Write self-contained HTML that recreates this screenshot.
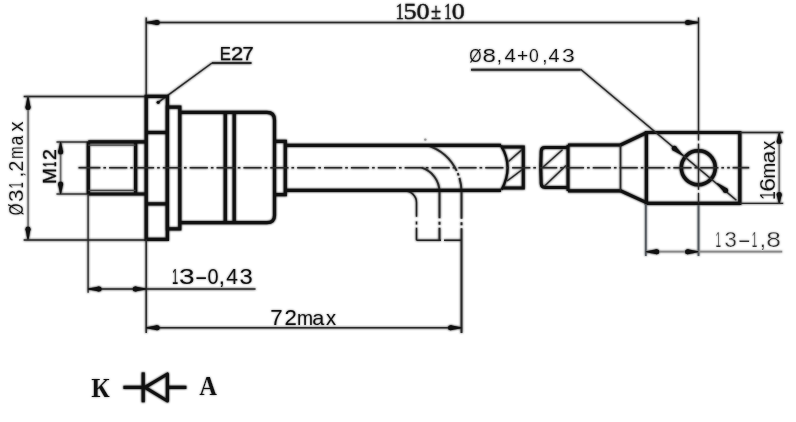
<!DOCTYPE html>
<html><head><meta charset="utf-8"><style>
html,body{margin:0;padding:0;background:#fff;width:796px;height:422px;overflow:hidden}
svg{display:block;will-change:transform}
</style></head><body>
<svg width="796" height="422" viewBox="0 0 796 422">
<rect width="796" height="422" fill="#fff"/>
<defs><filter id="bl" x="-1%" y="-1%" width="102%" height="102%"><feGaussianBlur stdDeviation="1"/></filter></defs>
<g filter="url(#bl)">
<line x1="146.2" y1="17.5" x2="146.2" y2="96" stroke="#2a2a2a" stroke-width="1.4" />
<line x1="698.5" y1="17.5" x2="698.5" y2="132.5" stroke="#2a2a2a" stroke-width="1.3" />
<line x1="698.5" y1="203.4" x2="698.5" y2="256" stroke="#555a60" stroke-width="1.8" />
<line x1="146.2" y1="22.5" x2="698.5" y2="22.5" stroke="#2a2a2a" stroke-width="1.5" />
<polygon points="146.20,22.00 157.20,20.00 157.20,25.00 146.20,23.00" fill="#111"/>
<circle cx="157.20" cy="22.50" r="2.50" fill="#111"/>
<polygon points="698.50,23.00 687.50,25.00 687.50,20.00 698.50,22.00" fill="#111"/>
<circle cx="687.50" cy="22.50" r="2.50" fill="#111"/>
<line x1="212" y1="63" x2="251.5" y2="63" stroke="#2a2a2a" stroke-width="2.0" />
<line x1="212" y1="63" x2="158.2" y2="102.3" stroke="#2a2a2a" stroke-width="1.5" />
<circle cx="158.2" cy="102.3" r="1.6" fill="#111"/>
<line x1="23.7" y1="96.4" x2="146.2" y2="96.4" stroke="#2a2a2a" stroke-width="1.5" />
<line x1="23.7" y1="240" x2="146.2" y2="240" stroke="#2a2a2a" stroke-width="1.5" />
<line x1="28.1" y1="96.4" x2="28.1" y2="240" stroke="#6a6a6a" stroke-width="1.5" />
<polygon points="28.50,96.40 30.50,107.40 25.50,107.40 27.50,96.40" fill="#111"/>
<circle cx="28.00" cy="107.40" r="2.50" fill="#111"/>
<polygon points="27.50,240.00 25.50,229.00 30.50,229.00 28.50,240.00" fill="#111"/>
<circle cx="28.00" cy="229.00" r="2.50" fill="#111"/>
<line x1="56.5" y1="142" x2="88" y2="142" stroke="#2a2a2a" stroke-width="1.3" />
<line x1="56.5" y1="194" x2="88" y2="194" stroke="#2a2a2a" stroke-width="1.3" />
<line x1="60.6" y1="142" x2="60.6" y2="194" stroke="#6a6a6a" stroke-width="1.5" />
<polygon points="61.10,142.00 63.10,152.00 58.10,152.00 60.10,142.00" fill="#111"/>
<circle cx="60.60" cy="152.00" r="2.50" fill="#111"/>
<polygon points="60.10,194.00 58.10,184.00 63.10,184.00 61.10,194.00" fill="#111"/>
<circle cx="60.60" cy="184.00" r="2.50" fill="#111"/>
<path d="M88.3,141.8 H146 M88.3,194 H146 M88.3,141.8 V194 M135.6,141.8 V194" stroke="#111" stroke-width="3.2" fill="none" />
<line x1="88.3" y1="145.2" x2="135.5" y2="145.2" stroke="#444" stroke-width="1.3" />
<line x1="88.3" y1="190.4" x2="135.6" y2="190.4" stroke="#444" stroke-width="1.3" />
<path d="M146.2,96.4 H167.4 V239.4 H146.2 Z" stroke="#111" stroke-width="3.3" fill="none" />
<line x1="146.2" y1="132.5" x2="167.4" y2="132.5" stroke="#111" stroke-width="3.2" />
<line x1="146.2" y1="203.9" x2="167.4" y2="203.9" stroke="#111" stroke-width="3.2" />
<path d="M167.4,228.8 V107.1 H179.8 V228.8 Z" stroke="#111" stroke-width="3.2" fill="none" />
<path d="M179.8,112.4 H267 Q274.5,112.4 274.5,120 V215.5 Q274.5,222.6 267,222.6 H179.8" stroke="#111" stroke-width="3.2" fill="none" />
<line x1="225.3" y1="112.4" x2="225.3" y2="222.6" stroke="#111" stroke-width="3.3" />
<line x1="234.2" y1="112.4" x2="234.2" y2="222.6" stroke="#111" stroke-width="3.3" />
<path d="M274.5,141.3 H285.3 V194.7 H274.5" stroke="#111" stroke-width="3.2" fill="none" />
<path d="M427.3,145.3 A49,49 0 0 1 461.5,192 V333" stroke="#2a2a2a" stroke-width="1.9" fill="none" stroke-dasharray="40 2.5 2.5 2.5 41 3.5 3 3 300"/>
<path d="M421.7,167.7 A25.5,25.5 0 0 1 439.5,192 V240.3" stroke="#2a2a2a" stroke-width="1.9" fill="none" stroke-dasharray="58.3 3.5 3 3 100"/>
<path d="M405,191 A11.5,11.5 0 0 1 416.5,202.5 V216.8" stroke="#222" stroke-width="1.5" fill="none" />
<line x1="416.5" y1="221.5" x2="416.5" y2="224.5" stroke="#222" stroke-width="1.5" />
<line x1="416.5" y1="227.7" x2="416.5" y2="240.3" stroke="#222" stroke-width="1.5" />
<path d="M416.5,240.3 H441 M444,240.3 H461.5" stroke="#222" stroke-width="1.5" fill="none" />
<path d="M285.2,145.3 H501 M285.2,190.3 H501" stroke="#111" stroke-width="3.2" fill="none" />
<path d="M501,145.6 Q514,167 501.5,189.8" stroke="#111" stroke-width="2.3" fill="none" />
<path d="M501,146.9 H523.3 V188 H502" stroke="#111" stroke-width="3.0" fill="none" />
<line x1="522" y1="149.6" x2="508.5" y2="161.5" stroke="#2a2a2a" stroke-width="1.4" />
<line x1="522" y1="169.8" x2="507" y2="181" stroke="#2a2a2a" stroke-width="1.4" />
<path d="M568,147.6 H545 Q541.2,147.6 541.2,151.5 Q540.2,167.5 541.2,183.6 Q541.2,187.5 545,187.5 H568" stroke="#111" stroke-width="3.0" fill="none" />
<line x1="568" y1="144.9" x2="568" y2="191" stroke="#111" stroke-width="3.0" />
<line x1="562.5" y1="149.7" x2="542.6" y2="167.5" stroke="#2a2a2a" stroke-width="1.4" />
<line x1="566" y1="165.5" x2="544.6" y2="186" stroke="#2a2a2a" stroke-width="1.4" />
<circle cx="425.3" cy="139.6" r="1.2" fill="#999"/>
<path d="M568,145 H620.5 M568,190.8 H620.5" stroke="#111" stroke-width="3.2" fill="none" />
<line x1="620.5" y1="145" x2="620.5" y2="190.8" stroke="#2a2a2a" stroke-width="1.6" />
<path d="M620.5,145 L646.4,132.8 M620.5,190.8 L646.4,202.6" stroke="#111" stroke-width="3.2" fill="none" />
<path d="M646.4,132.5 H739.8 V203.4 H646.4 Z" stroke="#111" stroke-width="3.2" fill="none" />
<circle cx="698.3" cy="167.8" r="17.0" stroke="#111" stroke-width="3.5" fill="none"/>
<line x1="78.5" y1="167.7" x2="100.4" y2="167.7" stroke="#2a2a2a" stroke-width="1.6" />
<line x1="100.4" y1="167.7" x2="727" y2="167.7" stroke="#2a2a2a" stroke-width="1.6" stroke-dasharray="18.2 3 2.6 3.07" stroke-dashoffset="18.2"/>
<line x1="727.2" y1="167.7" x2="729.8" y2="167.7" stroke="#2a2a2a" stroke-width="1.6" />
<line x1="732.6" y1="167.7" x2="749.2" y2="167.7" stroke="#2a2a2a" stroke-width="1.6" />
<line x1="698.5" y1="132.5" x2="698.5" y2="140.5" stroke="#2a2a2a" stroke-width="1.3" />
<line x1="698.5" y1="143.6" x2="698.5" y2="189.8" stroke="#2a2a2a" stroke-width="1.3" />
<line x1="698.5" y1="192.8" x2="698.5" y2="203.4" stroke="#2a2a2a" stroke-width="1.3" />
<line x1="471" y1="69.7" x2="580.6" y2="69.7" stroke="#2a2a2a" stroke-width="2.0" />
<line x1="580.6" y1="69.2" x2="736.4" y2="200.2" stroke="#2a2a2a" stroke-width="1.5" />
<polygon points="682.38,155.78 672.68,150.22 675.90,146.40 683.02,155.02" fill="#111"/>
<circle cx="674.29" cy="148.31" r="2.50" fill="#111"/>
<polygon points="717.52,182.92 727.22,188.48 724.00,192.30 716.88,183.68" fill="#111"/>
<circle cx="725.61" cy="190.39" r="2.50" fill="#111"/>
<line x1="740" y1="132.5" x2="783.2" y2="132.5" stroke="#2a2a2a" stroke-width="1.3" />
<line x1="740" y1="203.4" x2="783.2" y2="203.4" stroke="#2a2a2a" stroke-width="1.3" />
<line x1="779.2" y1="132.5" x2="779.2" y2="203.4" stroke="#6a6a6a" stroke-width="1.5" />
<polygon points="779.70,132.50 781.70,141.50 776.70,141.50 778.70,132.50" fill="#111"/>
<circle cx="779.20" cy="141.50" r="2.50" fill="#111"/>
<polygon points="778.70,203.40 776.70,194.40 781.70,194.40 779.70,203.40" fill="#111"/>
<circle cx="779.20" cy="194.40" r="2.50" fill="#111"/>
<line x1="645.8" y1="204" x2="645.8" y2="256" stroke="#555a60" stroke-width="1.8" />
<line x1="645.8" y1="251.7" x2="782.2" y2="251.7" stroke="#8a8a8a" stroke-width="1.7" />
<polygon points="645.80,251.20 656.80,249.20 656.80,254.20 645.80,252.20" fill="#111"/>
<circle cx="656.80" cy="251.70" r="2.50" fill="#111"/>
<polygon points="698.50,252.20 687.50,254.20 687.50,249.20 698.50,251.20" fill="#111"/>
<circle cx="687.50" cy="251.70" r="2.50" fill="#111"/>
<line x1="88.1" y1="194" x2="88.1" y2="292.8" stroke="#2a2a2a" stroke-width="1.3" />
<line x1="146.2" y1="239.6" x2="146.2" y2="333" stroke="#2a2a2a" stroke-width="1.5" />
<line x1="88.1" y1="289" x2="255.5" y2="289" stroke="#2a2a2a" stroke-width="1.5" />
<polygon points="88.10,288.50 99.10,286.50 99.10,291.50 88.10,289.50" fill="#111"/>
<circle cx="99.10" cy="289.00" r="2.50" fill="#111"/>
<polygon points="146.20,289.50 135.20,291.50 135.20,286.50 146.20,288.50" fill="#111"/>
<circle cx="135.20" cy="289.00" r="2.50" fill="#111"/>
<line x1="146.2" y1="327.7" x2="461.6" y2="327.7" stroke="#2a2a2a" stroke-width="1.5" />
<polygon points="146.20,327.20 157.20,325.20 157.20,330.20 146.20,328.20" fill="#111"/>
<circle cx="157.20" cy="327.70" r="2.50" fill="#111"/>
<polygon points="461.50,328.20 450.50,330.20 450.50,325.20 461.50,327.20" fill="#111"/>
<circle cx="450.50" cy="327.70" r="2.50" fill="#111"/>
<path d="M123.4,387.4 H143 M167,387.4 H186.4" stroke="#111" stroke-width="3.2" fill="none" />
<line x1="143.2" y1="372.4" x2="143.2" y2="402.3" stroke="#111" stroke-width="3.2" />
<path d="M145,387.4 L167.4,374 V401 Z" stroke="#111" stroke-width="3.2" fill="none" stroke-linejoin="round"/>
</g>
<g filter="url(#bl)" opacity="0.5">
<text x="395.51" y="19.1" font-family="Liberation Serif" font-size="23.46" fill="#1a1a1a" textLength="8.51" lengthAdjust="spacingAndGlyphs" stroke="#1a1a1a" stroke-width="0.35">1</text>
<text x="403.49" y="19.1" font-family="Liberation Serif" font-size="23.46" fill="#1a1a1a" textLength="13.17" lengthAdjust="spacingAndGlyphs" stroke="#1a1a1a" stroke-width="0.35">5</text>
<text x="416.62" y="19.1" font-family="Liberation Serif" font-size="23.46" fill="#1a1a1a" textLength="13.06" lengthAdjust="spacingAndGlyphs" stroke="#1a1a1a" stroke-width="0.35">0</text>
<text x="430.92" y="19.1" font-family="Liberation Serif" font-size="23.46" fill="#1a1a1a" textLength="10.03" lengthAdjust="spacingAndGlyphs" stroke="#1a1a1a" stroke-width="0.35">±</text>
<text x="443.93" y="19.1" font-family="Liberation Serif" font-size="23.46" fill="#1a1a1a" textLength="7.8" lengthAdjust="spacingAndGlyphs" stroke="#1a1a1a" stroke-width="0.35">1</text>
<text x="451.82" y="19.1" font-family="Liberation Serif" font-size="23.46" fill="#1a1a1a" textLength="13.06" lengthAdjust="spacingAndGlyphs" stroke="#1a1a1a" stroke-width="0.35">0</text>
<text x="219.72" y="59.6" font-family="Liberation Sans" font-size="17.6" fill="#111" textLength="11.19" lengthAdjust="spacingAndGlyphs" stroke="#111" stroke-width="0.25">E</text>
<text x="231.1" y="59.6" font-family="Liberation Sans" font-size="17.6" fill="#111" textLength="12.22" lengthAdjust="spacingAndGlyphs" stroke="#111" stroke-width="0.25">2</text>
<text x="242.64" y="59.6" font-family="Liberation Sans" font-size="17.6" fill="#111" textLength="11.18" lengthAdjust="spacingAndGlyphs" stroke="#111" stroke-width="0.25">7</text>
<text x="23.2" y="215.16" transform="rotate(-90 23.2 215.16)" font-family="Liberation Sans" font-size="19.35" fill="#111" textLength="11.7" lengthAdjust="spacingAndGlyphs" stroke="#fff" stroke-width="0.1">Ø</text>
<text x="23.2" y="202.04" transform="rotate(-90 23.2 202.04)" font-family="Liberation Sans" font-size="19.35" fill="#111" textLength="12.53" lengthAdjust="spacingAndGlyphs" stroke="#fff" stroke-width="0.1">3</text>
<text x="23.2" y="188.57" transform="rotate(-90 23.2 188.57)" font-family="Liberation Sans" font-size="19.35" fill="#111" textLength="6.43" lengthAdjust="spacingAndGlyphs" stroke="#fff" stroke-width="0.1">1</text>
<text x="23.2" y="177.19" transform="rotate(-90 23.2 177.19)" font-family="Liberation Sans" font-size="19.35" fill="#111" textLength="5.38" lengthAdjust="spacingAndGlyphs" stroke="#fff" stroke-width="0.1">,</text>
<text x="23.2" y="171.57" transform="rotate(-90 23.2 171.57)" font-family="Liberation Sans" font-size="19.35" fill="#111" textLength="10.76" lengthAdjust="spacingAndGlyphs" stroke="#fff" stroke-width="0.1">2</text>
<text x="23.2" y="158.62" transform="rotate(-90 23.2 158.62)" font-family="Liberation Sans" font-size="20.09" fill="#111" textLength="12.61" lengthAdjust="spacingAndGlyphs" stroke="#fff" stroke-width="0.1">m</text>
<text x="23.2" y="145.33" transform="rotate(-90 23.2 145.33)" font-family="Liberation Sans" font-size="20.09" fill="#111" textLength="9.55" lengthAdjust="spacingAndGlyphs" stroke="#fff" stroke-width="0.1">a</text>
<text x="23.2" y="131.86" transform="rotate(-90 23.2 131.86)" font-family="Liberation Sans" font-size="20.09" fill="#111" textLength="10.53" lengthAdjust="spacingAndGlyphs" stroke="#fff" stroke-width="0.1">x</text>
<text x="56.5" y="183.83" transform="rotate(-90 56.5 183.83)" font-family="Liberation Sans" font-size="18.18" fill="#111" textLength="15.47" lengthAdjust="spacingAndGlyphs" stroke="#111" stroke-width="0.3">M</text>
<text x="56.5" y="167.09" transform="rotate(-90 56.5 167.09)" font-family="Liberation Sans" font-size="18.18" fill="#111" textLength="5.14" lengthAdjust="spacingAndGlyphs" stroke="#111" stroke-width="0.3">1</text>
<text x="56.5" y="159.88" transform="rotate(-90 56.5 159.88)" font-family="Liberation Sans" font-size="18.18" fill="#111" textLength="10.88" lengthAdjust="spacingAndGlyphs" stroke="#111" stroke-width="0.3">2</text>
<text x="469.3" y="61.5" font-family="Liberation Sans" font-size="18.64" fill="#111" textLength="12.36" lengthAdjust="spacingAndGlyphs" stroke="#fff" stroke-width="0.1">Ø</text>
<text x="482.58" y="61.5" font-family="Liberation Sans" font-size="18.64" fill="#111" textLength="13.37" lengthAdjust="spacingAndGlyphs" stroke="#fff" stroke-width="0.1">8</text>
<text x="496.66" y="61.5" font-family="Liberation Sans" font-size="18.64" fill="#111" textLength="5.18" lengthAdjust="spacingAndGlyphs" stroke="#fff" stroke-width="0.1">,</text>
<text x="504.54" y="61.5" font-family="Liberation Sans" font-size="18.64" fill="#111" textLength="11.34" lengthAdjust="spacingAndGlyphs" stroke="#fff" stroke-width="0.1">4</text>
<text x="517.04" y="61.5" font-family="Liberation Sans" font-size="18.64" fill="#111" textLength="11.2" lengthAdjust="spacingAndGlyphs" stroke="#fff" stroke-width="0.1">+</text>
<text x="529.0" y="61.5" font-family="Liberation Sans" font-size="18.64" fill="#111" textLength="9.78" lengthAdjust="spacingAndGlyphs" stroke="#fff" stroke-width="0.1">0</text>
<text x="542.16" y="61.5" font-family="Liberation Sans" font-size="18.64" fill="#111" textLength="5.18" lengthAdjust="spacingAndGlyphs" stroke="#fff" stroke-width="0.1">,</text>
<text x="548.55" y="61.5" font-family="Liberation Sans" font-size="18.64" fill="#111" textLength="11.01" lengthAdjust="spacingAndGlyphs" stroke="#fff" stroke-width="0.1">4</text>
<text x="562.14" y="61.5" font-family="Liberation Sans" font-size="18.64" fill="#111" textLength="12.76" lengthAdjust="spacingAndGlyphs" stroke="#fff" stroke-width="0.1">3</text>
<text x="774.9" y="199.86" transform="rotate(-90 774.9 199.86)" font-family="Liberation Sans" font-size="22.25" fill="#111" textLength="8.62" lengthAdjust="spacingAndGlyphs" stroke="#fff" stroke-width="0.1">1</text>
<text x="774.9" y="191.75" transform="rotate(-90 774.9 191.75)" font-family="Liberation Sans" font-size="22.25" fill="#111" textLength="13.95" lengthAdjust="spacingAndGlyphs" stroke="#fff" stroke-width="0.1">6</text>
<text x="774.9" y="178.47" transform="rotate(-90 774.9 178.47)" font-family="Liberation Sans" font-size="20.66" fill="#111" textLength="15.71" lengthAdjust="spacingAndGlyphs" stroke="#fff" stroke-width="0.1">m</text>
<text x="774.9" y="163.26" transform="rotate(-90 774.9 163.26)" font-family="Liberation Sans" font-size="20.66" fill="#111" textLength="12.59" lengthAdjust="spacingAndGlyphs" stroke="#fff" stroke-width="0.1">a</text>
<text x="774.9" y="150.14" transform="rotate(-90 774.9 150.14)" font-family="Liberation Sans" font-size="20.66" fill="#111" textLength="9.58" lengthAdjust="spacingAndGlyphs" stroke="#fff" stroke-width="0.1">x</text>
<text x="715.45" y="246.5" font-family="Liberation Sans" font-size="22.51" fill="#333" textLength="5.53" lengthAdjust="spacingAndGlyphs" stroke="#fff" stroke-width="0.25">1</text>
<text x="724.47" y="246.5" font-family="Liberation Sans" font-size="22.51" fill="#333" textLength="12.29" lengthAdjust="spacingAndGlyphs" stroke="#fff" stroke-width="0.25">3</text>
<text x="737.23" y="246.5" font-family="Liberation Sans" font-size="22.51" fill="#333" textLength="13.87" lengthAdjust="spacingAndGlyphs" stroke="#fff" stroke-width="0.25">-</text>
<text x="751.75" y="246.5" font-family="Liberation Sans" font-size="22.51" fill="#333" textLength="5.53" lengthAdjust="spacingAndGlyphs" stroke="#fff" stroke-width="0.25">1</text>
<text x="759.63" y="246.5" font-family="Liberation Sans" font-size="22.51" fill="#333" textLength="6.25" lengthAdjust="spacingAndGlyphs" stroke="#fff" stroke-width="0.25">,</text>
<text x="766.18" y="246.5" font-family="Liberation Sans" font-size="22.51" fill="#333" textLength="14.67" lengthAdjust="spacingAndGlyphs" stroke="#fff" stroke-width="0.25">8</text>
<text x="171.97" y="283.6" font-family="Liberation Sans" font-size="22.08" fill="#111" textLength="6.17" lengthAdjust="spacingAndGlyphs" >1</text>
<text x="178.95" y="283.6" font-family="Liberation Sans" font-size="22.08" fill="#111" textLength="15.57" lengthAdjust="spacingAndGlyphs" >3</text>
<text x="194.66" y="283.6" font-family="Liberation Sans" font-size="22.08" fill="#111" textLength="12.91" lengthAdjust="spacingAndGlyphs" >-</text>
<text x="207.5" y="283.6" font-family="Liberation Sans" font-size="22.08" fill="#111" textLength="11.07" lengthAdjust="spacingAndGlyphs" >0</text>
<text x="218.74" y="283.6" font-family="Liberation Sans" font-size="22.08" fill="#111" textLength="6.13" lengthAdjust="spacingAndGlyphs" >,</text>
<text x="226.13" y="283.6" font-family="Liberation Sans" font-size="22.08" fill="#111" textLength="11.67" lengthAdjust="spacingAndGlyphs" >4</text>
<text x="239.51" y="283.6" font-family="Liberation Sans" font-size="22.08" fill="#111" textLength="13.23" lengthAdjust="spacingAndGlyphs" >3</text>
<text x="270.33" y="324.6" font-family="Liberation Sans" font-size="21.96" fill="#111" textLength="12.41" lengthAdjust="spacingAndGlyphs" >7</text>
<text x="284.49" y="324.6" font-family="Liberation Sans" font-size="21.96" fill="#111" textLength="12.35" lengthAdjust="spacingAndGlyphs" >2</text>
<text x="296.9" y="324.6" font-family="Liberation Sans" font-size="20.09" fill="#111" textLength="16.07" lengthAdjust="spacingAndGlyphs" >m</text>
<text x="312.28" y="324.6" font-family="Liberation Sans" font-size="20.09" fill="#111" textLength="12.05" lengthAdjust="spacingAndGlyphs" >a</text>
<text x="326.05" y="324.6" font-family="Liberation Sans" font-size="20.09" fill="#111" textLength="10.11" lengthAdjust="spacingAndGlyphs" >x</text>
<text x="91.2" y="397.4" font-family="Liberation Serif" font-size="26.5" font-weight="bold" fill="#111" textLength="18.5" lengthAdjust="spacingAndGlyphs" stroke="#fff" stroke-width="0.1">К</text>
<text x="199.3" y="395.4" font-family="Liberation Serif" font-size="26.5" font-weight="bold" fill="#111" textLength="17.8" lengthAdjust="spacingAndGlyphs" stroke="#fff" stroke-width="0.1">A</text>
</g>
<g>
<line x1="146.2" y1="17.5" x2="146.2" y2="96" stroke="#2a2a2a" stroke-width="1.4" />
<line x1="698.5" y1="17.5" x2="698.5" y2="132.5" stroke="#2a2a2a" stroke-width="1.3" />
<line x1="698.5" y1="203.4" x2="698.5" y2="256" stroke="#555a60" stroke-width="1.8" />
<line x1="146.2" y1="22.5" x2="698.5" y2="22.5" stroke="#2a2a2a" stroke-width="1.5" />
<polygon points="146.20,22.00 157.20,20.00 157.20,25.00 146.20,23.00" fill="#111"/>
<circle cx="157.20" cy="22.50" r="2.50" fill="#111"/>
<polygon points="698.50,23.00 687.50,25.00 687.50,20.00 698.50,22.00" fill="#111"/>
<circle cx="687.50" cy="22.50" r="2.50" fill="#111"/>
<line x1="212" y1="63" x2="251.5" y2="63" stroke="#2a2a2a" stroke-width="2.0" />
<line x1="212" y1="63" x2="158.2" y2="102.3" stroke="#2a2a2a" stroke-width="1.5" />
<circle cx="158.2" cy="102.3" r="1.6" fill="#111"/>
<line x1="23.7" y1="96.4" x2="146.2" y2="96.4" stroke="#2a2a2a" stroke-width="1.5" />
<line x1="23.7" y1="240" x2="146.2" y2="240" stroke="#2a2a2a" stroke-width="1.5" />
<line x1="28.1" y1="96.4" x2="28.1" y2="240" stroke="#6a6a6a" stroke-width="1.5" />
<polygon points="28.50,96.40 30.50,107.40 25.50,107.40 27.50,96.40" fill="#111"/>
<circle cx="28.00" cy="107.40" r="2.50" fill="#111"/>
<polygon points="27.50,240.00 25.50,229.00 30.50,229.00 28.50,240.00" fill="#111"/>
<circle cx="28.00" cy="229.00" r="2.50" fill="#111"/>
<line x1="56.5" y1="142" x2="88" y2="142" stroke="#2a2a2a" stroke-width="1.3" />
<line x1="56.5" y1="194" x2="88" y2="194" stroke="#2a2a2a" stroke-width="1.3" />
<line x1="60.6" y1="142" x2="60.6" y2="194" stroke="#6a6a6a" stroke-width="1.5" />
<polygon points="61.10,142.00 63.10,152.00 58.10,152.00 60.10,142.00" fill="#111"/>
<circle cx="60.60" cy="152.00" r="2.50" fill="#111"/>
<polygon points="60.10,194.00 58.10,184.00 63.10,184.00 61.10,194.00" fill="#111"/>
<circle cx="60.60" cy="184.00" r="2.50" fill="#111"/>
<path d="M88.3,141.8 H146 M88.3,194 H146 M88.3,141.8 V194 M135.6,141.8 V194" stroke="#111" stroke-width="3.2" fill="none" />
<line x1="88.3" y1="145.2" x2="135.5" y2="145.2" stroke="#444" stroke-width="1.3" />
<line x1="88.3" y1="190.4" x2="135.6" y2="190.4" stroke="#444" stroke-width="1.3" />
<path d="M146.2,96.4 H167.4 V239.4 H146.2 Z" stroke="#111" stroke-width="3.3" fill="none" />
<line x1="146.2" y1="132.5" x2="167.4" y2="132.5" stroke="#111" stroke-width="3.2" />
<line x1="146.2" y1="203.9" x2="167.4" y2="203.9" stroke="#111" stroke-width="3.2" />
<path d="M167.4,228.8 V107.1 H179.8 V228.8 Z" stroke="#111" stroke-width="3.2" fill="none" />
<path d="M179.8,112.4 H267 Q274.5,112.4 274.5,120 V215.5 Q274.5,222.6 267,222.6 H179.8" stroke="#111" stroke-width="3.2" fill="none" />
<line x1="225.3" y1="112.4" x2="225.3" y2="222.6" stroke="#111" stroke-width="3.3" />
<line x1="234.2" y1="112.4" x2="234.2" y2="222.6" stroke="#111" stroke-width="3.3" />
<path d="M274.5,141.3 H285.3 V194.7 H274.5" stroke="#111" stroke-width="3.2" fill="none" />
<path d="M427.3,145.3 A49,49 0 0 1 461.5,192 V333" stroke="#2a2a2a" stroke-width="1.9" fill="none" stroke-dasharray="40 2.5 2.5 2.5 41 3.5 3 3 300"/>
<path d="M421.7,167.7 A25.5,25.5 0 0 1 439.5,192 V240.3" stroke="#2a2a2a" stroke-width="1.9" fill="none" stroke-dasharray="58.3 3.5 3 3 100"/>
<path d="M405,191 A11.5,11.5 0 0 1 416.5,202.5 V216.8" stroke="#222" stroke-width="1.5" fill="none" />
<line x1="416.5" y1="221.5" x2="416.5" y2="224.5" stroke="#222" stroke-width="1.5" />
<line x1="416.5" y1="227.7" x2="416.5" y2="240.3" stroke="#222" stroke-width="1.5" />
<path d="M416.5,240.3 H441 M444,240.3 H461.5" stroke="#222" stroke-width="1.5" fill="none" />
<path d="M285.2,145.3 H501 M285.2,190.3 H501" stroke="#111" stroke-width="3.2" fill="none" />
<path d="M501,145.6 Q514,167 501.5,189.8" stroke="#111" stroke-width="2.3" fill="none" />
<path d="M501,146.9 H523.3 V188 H502" stroke="#111" stroke-width="3.0" fill="none" />
<line x1="522" y1="149.6" x2="508.5" y2="161.5" stroke="#2a2a2a" stroke-width="1.4" />
<line x1="522" y1="169.8" x2="507" y2="181" stroke="#2a2a2a" stroke-width="1.4" />
<path d="M568,147.6 H545 Q541.2,147.6 541.2,151.5 Q540.2,167.5 541.2,183.6 Q541.2,187.5 545,187.5 H568" stroke="#111" stroke-width="3.0" fill="none" />
<line x1="568" y1="144.9" x2="568" y2="191" stroke="#111" stroke-width="3.0" />
<line x1="562.5" y1="149.7" x2="542.6" y2="167.5" stroke="#2a2a2a" stroke-width="1.4" />
<line x1="566" y1="165.5" x2="544.6" y2="186" stroke="#2a2a2a" stroke-width="1.4" />
<circle cx="425.3" cy="139.6" r="1.2" fill="#999"/>
<path d="M568,145 H620.5 M568,190.8 H620.5" stroke="#111" stroke-width="3.2" fill="none" />
<line x1="620.5" y1="145" x2="620.5" y2="190.8" stroke="#2a2a2a" stroke-width="1.6" />
<path d="M620.5,145 L646.4,132.8 M620.5,190.8 L646.4,202.6" stroke="#111" stroke-width="3.2" fill="none" />
<path d="M646.4,132.5 H739.8 V203.4 H646.4 Z" stroke="#111" stroke-width="3.2" fill="none" />
<circle cx="698.3" cy="167.8" r="17.0" stroke="#111" stroke-width="3.5" fill="none"/>
<line x1="78.5" y1="167.7" x2="100.4" y2="167.7" stroke="#2a2a2a" stroke-width="1.6" />
<line x1="100.4" y1="167.7" x2="727" y2="167.7" stroke="#2a2a2a" stroke-width="1.6" stroke-dasharray="18.2 3 2.6 3.07" stroke-dashoffset="18.2"/>
<line x1="727.2" y1="167.7" x2="729.8" y2="167.7" stroke="#2a2a2a" stroke-width="1.6" />
<line x1="732.6" y1="167.7" x2="749.2" y2="167.7" stroke="#2a2a2a" stroke-width="1.6" />
<line x1="698.5" y1="132.5" x2="698.5" y2="140.5" stroke="#2a2a2a" stroke-width="1.3" />
<line x1="698.5" y1="143.6" x2="698.5" y2="189.8" stroke="#2a2a2a" stroke-width="1.3" />
<line x1="698.5" y1="192.8" x2="698.5" y2="203.4" stroke="#2a2a2a" stroke-width="1.3" />
<line x1="471" y1="69.7" x2="580.6" y2="69.7" stroke="#2a2a2a" stroke-width="2.0" />
<line x1="580.6" y1="69.2" x2="736.4" y2="200.2" stroke="#2a2a2a" stroke-width="1.5" />
<polygon points="682.38,155.78 672.68,150.22 675.90,146.40 683.02,155.02" fill="#111"/>
<circle cx="674.29" cy="148.31" r="2.50" fill="#111"/>
<polygon points="717.52,182.92 727.22,188.48 724.00,192.30 716.88,183.68" fill="#111"/>
<circle cx="725.61" cy="190.39" r="2.50" fill="#111"/>
<line x1="740" y1="132.5" x2="783.2" y2="132.5" stroke="#2a2a2a" stroke-width="1.3" />
<line x1="740" y1="203.4" x2="783.2" y2="203.4" stroke="#2a2a2a" stroke-width="1.3" />
<line x1="779.2" y1="132.5" x2="779.2" y2="203.4" stroke="#6a6a6a" stroke-width="1.5" />
<polygon points="779.70,132.50 781.70,141.50 776.70,141.50 778.70,132.50" fill="#111"/>
<circle cx="779.20" cy="141.50" r="2.50" fill="#111"/>
<polygon points="778.70,203.40 776.70,194.40 781.70,194.40 779.70,203.40" fill="#111"/>
<circle cx="779.20" cy="194.40" r="2.50" fill="#111"/>
<line x1="645.8" y1="204" x2="645.8" y2="256" stroke="#555a60" stroke-width="1.8" />
<line x1="645.8" y1="251.7" x2="782.2" y2="251.7" stroke="#8a8a8a" stroke-width="1.7" />
<polygon points="645.80,251.20 656.80,249.20 656.80,254.20 645.80,252.20" fill="#111"/>
<circle cx="656.80" cy="251.70" r="2.50" fill="#111"/>
<polygon points="698.50,252.20 687.50,254.20 687.50,249.20 698.50,251.20" fill="#111"/>
<circle cx="687.50" cy="251.70" r="2.50" fill="#111"/>
<line x1="88.1" y1="194" x2="88.1" y2="292.8" stroke="#2a2a2a" stroke-width="1.3" />
<line x1="146.2" y1="239.6" x2="146.2" y2="333" stroke="#2a2a2a" stroke-width="1.5" />
<line x1="88.1" y1="289" x2="255.5" y2="289" stroke="#2a2a2a" stroke-width="1.5" />
<polygon points="88.10,288.50 99.10,286.50 99.10,291.50 88.10,289.50" fill="#111"/>
<circle cx="99.10" cy="289.00" r="2.50" fill="#111"/>
<polygon points="146.20,289.50 135.20,291.50 135.20,286.50 146.20,288.50" fill="#111"/>
<circle cx="135.20" cy="289.00" r="2.50" fill="#111"/>
<line x1="146.2" y1="327.7" x2="461.6" y2="327.7" stroke="#2a2a2a" stroke-width="1.5" />
<polygon points="146.20,327.20 157.20,325.20 157.20,330.20 146.20,328.20" fill="#111"/>
<circle cx="157.20" cy="327.70" r="2.50" fill="#111"/>
<polygon points="461.50,328.20 450.50,330.20 450.50,325.20 461.50,327.20" fill="#111"/>
<circle cx="450.50" cy="327.70" r="2.50" fill="#111"/>
<path d="M123.4,387.4 H143 M167,387.4 H186.4" stroke="#111" stroke-width="3.2" fill="none" />
<line x1="143.2" y1="372.4" x2="143.2" y2="402.3" stroke="#111" stroke-width="3.2" />
<path d="M145,387.4 L167.4,374 V401 Z" stroke="#111" stroke-width="3.2" fill="none" stroke-linejoin="round"/>
</g>
<g>
<text x="395.51" y="19.1" font-family="Liberation Serif" font-size="23.46" fill="#1a1a1a" textLength="8.51" lengthAdjust="spacingAndGlyphs" stroke="#1a1a1a" stroke-width="0.35">1</text>
<text x="403.49" y="19.1" font-family="Liberation Serif" font-size="23.46" fill="#1a1a1a" textLength="13.17" lengthAdjust="spacingAndGlyphs" stroke="#1a1a1a" stroke-width="0.35">5</text>
<text x="416.62" y="19.1" font-family="Liberation Serif" font-size="23.46" fill="#1a1a1a" textLength="13.06" lengthAdjust="spacingAndGlyphs" stroke="#1a1a1a" stroke-width="0.35">0</text>
<text x="430.92" y="19.1" font-family="Liberation Serif" font-size="23.46" fill="#1a1a1a" textLength="10.03" lengthAdjust="spacingAndGlyphs" stroke="#1a1a1a" stroke-width="0.35">±</text>
<text x="443.93" y="19.1" font-family="Liberation Serif" font-size="23.46" fill="#1a1a1a" textLength="7.8" lengthAdjust="spacingAndGlyphs" stroke="#1a1a1a" stroke-width="0.35">1</text>
<text x="451.82" y="19.1" font-family="Liberation Serif" font-size="23.46" fill="#1a1a1a" textLength="13.06" lengthAdjust="spacingAndGlyphs" stroke="#1a1a1a" stroke-width="0.35">0</text>
<text x="219.72" y="59.6" font-family="Liberation Sans" font-size="17.6" fill="#111" textLength="11.19" lengthAdjust="spacingAndGlyphs" stroke="#111" stroke-width="0.25">E</text>
<text x="231.1" y="59.6" font-family="Liberation Sans" font-size="17.6" fill="#111" textLength="12.22" lengthAdjust="spacingAndGlyphs" stroke="#111" stroke-width="0.25">2</text>
<text x="242.64" y="59.6" font-family="Liberation Sans" font-size="17.6" fill="#111" textLength="11.18" lengthAdjust="spacingAndGlyphs" stroke="#111" stroke-width="0.25">7</text>
<text x="23.2" y="215.16" transform="rotate(-90 23.2 215.16)" font-family="Liberation Sans" font-size="19.35" fill="#111" textLength="11.7" lengthAdjust="spacingAndGlyphs" stroke="#fff" stroke-width="0.1">Ø</text>
<text x="23.2" y="202.04" transform="rotate(-90 23.2 202.04)" font-family="Liberation Sans" font-size="19.35" fill="#111" textLength="12.53" lengthAdjust="spacingAndGlyphs" stroke="#fff" stroke-width="0.1">3</text>
<text x="23.2" y="188.57" transform="rotate(-90 23.2 188.57)" font-family="Liberation Sans" font-size="19.35" fill="#111" textLength="6.43" lengthAdjust="spacingAndGlyphs" stroke="#fff" stroke-width="0.1">1</text>
<text x="23.2" y="177.19" transform="rotate(-90 23.2 177.19)" font-family="Liberation Sans" font-size="19.35" fill="#111" textLength="5.38" lengthAdjust="spacingAndGlyphs" stroke="#fff" stroke-width="0.1">,</text>
<text x="23.2" y="171.57" transform="rotate(-90 23.2 171.57)" font-family="Liberation Sans" font-size="19.35" fill="#111" textLength="10.76" lengthAdjust="spacingAndGlyphs" stroke="#fff" stroke-width="0.1">2</text>
<text x="23.2" y="158.62" transform="rotate(-90 23.2 158.62)" font-family="Liberation Sans" font-size="20.09" fill="#111" textLength="12.61" lengthAdjust="spacingAndGlyphs" stroke="#fff" stroke-width="0.1">m</text>
<text x="23.2" y="145.33" transform="rotate(-90 23.2 145.33)" font-family="Liberation Sans" font-size="20.09" fill="#111" textLength="9.55" lengthAdjust="spacingAndGlyphs" stroke="#fff" stroke-width="0.1">a</text>
<text x="23.2" y="131.86" transform="rotate(-90 23.2 131.86)" font-family="Liberation Sans" font-size="20.09" fill="#111" textLength="10.53" lengthAdjust="spacingAndGlyphs" stroke="#fff" stroke-width="0.1">x</text>
<text x="56.5" y="183.83" transform="rotate(-90 56.5 183.83)" font-family="Liberation Sans" font-size="18.18" fill="#111" textLength="15.47" lengthAdjust="spacingAndGlyphs" stroke="#111" stroke-width="0.3">M</text>
<text x="56.5" y="167.09" transform="rotate(-90 56.5 167.09)" font-family="Liberation Sans" font-size="18.18" fill="#111" textLength="5.14" lengthAdjust="spacingAndGlyphs" stroke="#111" stroke-width="0.3">1</text>
<text x="56.5" y="159.88" transform="rotate(-90 56.5 159.88)" font-family="Liberation Sans" font-size="18.18" fill="#111" textLength="10.88" lengthAdjust="spacingAndGlyphs" stroke="#111" stroke-width="0.3">2</text>
<text x="469.3" y="61.5" font-family="Liberation Sans" font-size="18.64" fill="#111" textLength="12.36" lengthAdjust="spacingAndGlyphs" stroke="#fff" stroke-width="0.1">Ø</text>
<text x="482.58" y="61.5" font-family="Liberation Sans" font-size="18.64" fill="#111" textLength="13.37" lengthAdjust="spacingAndGlyphs" stroke="#fff" stroke-width="0.1">8</text>
<text x="496.66" y="61.5" font-family="Liberation Sans" font-size="18.64" fill="#111" textLength="5.18" lengthAdjust="spacingAndGlyphs" stroke="#fff" stroke-width="0.1">,</text>
<text x="504.54" y="61.5" font-family="Liberation Sans" font-size="18.64" fill="#111" textLength="11.34" lengthAdjust="spacingAndGlyphs" stroke="#fff" stroke-width="0.1">4</text>
<text x="517.04" y="61.5" font-family="Liberation Sans" font-size="18.64" fill="#111" textLength="11.2" lengthAdjust="spacingAndGlyphs" stroke="#fff" stroke-width="0.1">+</text>
<text x="529.0" y="61.5" font-family="Liberation Sans" font-size="18.64" fill="#111" textLength="9.78" lengthAdjust="spacingAndGlyphs" stroke="#fff" stroke-width="0.1">0</text>
<text x="542.16" y="61.5" font-family="Liberation Sans" font-size="18.64" fill="#111" textLength="5.18" lengthAdjust="spacingAndGlyphs" stroke="#fff" stroke-width="0.1">,</text>
<text x="548.55" y="61.5" font-family="Liberation Sans" font-size="18.64" fill="#111" textLength="11.01" lengthAdjust="spacingAndGlyphs" stroke="#fff" stroke-width="0.1">4</text>
<text x="562.14" y="61.5" font-family="Liberation Sans" font-size="18.64" fill="#111" textLength="12.76" lengthAdjust="spacingAndGlyphs" stroke="#fff" stroke-width="0.1">3</text>
<text x="774.9" y="199.86" transform="rotate(-90 774.9 199.86)" font-family="Liberation Sans" font-size="22.25" fill="#111" textLength="8.62" lengthAdjust="spacingAndGlyphs" stroke="#fff" stroke-width="0.1">1</text>
<text x="774.9" y="191.75" transform="rotate(-90 774.9 191.75)" font-family="Liberation Sans" font-size="22.25" fill="#111" textLength="13.95" lengthAdjust="spacingAndGlyphs" stroke="#fff" stroke-width="0.1">6</text>
<text x="774.9" y="178.47" transform="rotate(-90 774.9 178.47)" font-family="Liberation Sans" font-size="20.66" fill="#111" textLength="15.71" lengthAdjust="spacingAndGlyphs" stroke="#fff" stroke-width="0.1">m</text>
<text x="774.9" y="163.26" transform="rotate(-90 774.9 163.26)" font-family="Liberation Sans" font-size="20.66" fill="#111" textLength="12.59" lengthAdjust="spacingAndGlyphs" stroke="#fff" stroke-width="0.1">a</text>
<text x="774.9" y="150.14" transform="rotate(-90 774.9 150.14)" font-family="Liberation Sans" font-size="20.66" fill="#111" textLength="9.58" lengthAdjust="spacingAndGlyphs" stroke="#fff" stroke-width="0.1">x</text>
<text x="715.45" y="246.5" font-family="Liberation Sans" font-size="22.51" fill="#333" textLength="5.53" lengthAdjust="spacingAndGlyphs" stroke="#fff" stroke-width="0.25">1</text>
<text x="724.47" y="246.5" font-family="Liberation Sans" font-size="22.51" fill="#333" textLength="12.29" lengthAdjust="spacingAndGlyphs" stroke="#fff" stroke-width="0.25">3</text>
<text x="737.23" y="246.5" font-family="Liberation Sans" font-size="22.51" fill="#333" textLength="13.87" lengthAdjust="spacingAndGlyphs" stroke="#fff" stroke-width="0.25">-</text>
<text x="751.75" y="246.5" font-family="Liberation Sans" font-size="22.51" fill="#333" textLength="5.53" lengthAdjust="spacingAndGlyphs" stroke="#fff" stroke-width="0.25">1</text>
<text x="759.63" y="246.5" font-family="Liberation Sans" font-size="22.51" fill="#333" textLength="6.25" lengthAdjust="spacingAndGlyphs" stroke="#fff" stroke-width="0.25">,</text>
<text x="766.18" y="246.5" font-family="Liberation Sans" font-size="22.51" fill="#333" textLength="14.67" lengthAdjust="spacingAndGlyphs" stroke="#fff" stroke-width="0.25">8</text>
<text x="171.97" y="283.6" font-family="Liberation Sans" font-size="22.08" fill="#111" textLength="6.17" lengthAdjust="spacingAndGlyphs" >1</text>
<text x="178.95" y="283.6" font-family="Liberation Sans" font-size="22.08" fill="#111" textLength="15.57" lengthAdjust="spacingAndGlyphs" >3</text>
<text x="194.66" y="283.6" font-family="Liberation Sans" font-size="22.08" fill="#111" textLength="12.91" lengthAdjust="spacingAndGlyphs" >-</text>
<text x="207.5" y="283.6" font-family="Liberation Sans" font-size="22.08" fill="#111" textLength="11.07" lengthAdjust="spacingAndGlyphs" >0</text>
<text x="218.74" y="283.6" font-family="Liberation Sans" font-size="22.08" fill="#111" textLength="6.13" lengthAdjust="spacingAndGlyphs" >,</text>
<text x="226.13" y="283.6" font-family="Liberation Sans" font-size="22.08" fill="#111" textLength="11.67" lengthAdjust="spacingAndGlyphs" >4</text>
<text x="239.51" y="283.6" font-family="Liberation Sans" font-size="22.08" fill="#111" textLength="13.23" lengthAdjust="spacingAndGlyphs" >3</text>
<text x="270.33" y="324.6" font-family="Liberation Sans" font-size="21.96" fill="#111" textLength="12.41" lengthAdjust="spacingAndGlyphs" >7</text>
<text x="284.49" y="324.6" font-family="Liberation Sans" font-size="21.96" fill="#111" textLength="12.35" lengthAdjust="spacingAndGlyphs" >2</text>
<text x="296.9" y="324.6" font-family="Liberation Sans" font-size="20.09" fill="#111" textLength="16.07" lengthAdjust="spacingAndGlyphs" >m</text>
<text x="312.28" y="324.6" font-family="Liberation Sans" font-size="20.09" fill="#111" textLength="12.05" lengthAdjust="spacingAndGlyphs" >a</text>
<text x="326.05" y="324.6" font-family="Liberation Sans" font-size="20.09" fill="#111" textLength="10.11" lengthAdjust="spacingAndGlyphs" >x</text>
<text x="91.2" y="397.4" font-family="Liberation Serif" font-size="26.5" font-weight="bold" fill="#111" textLength="18.5" lengthAdjust="spacingAndGlyphs" stroke="#fff" stroke-width="0.1">К</text>
<text x="199.3" y="395.4" font-family="Liberation Serif" font-size="26.5" font-weight="bold" fill="#111" textLength="17.8" lengthAdjust="spacingAndGlyphs" stroke="#fff" stroke-width="0.1">A</text>
</g>
</svg>
</body></html>
